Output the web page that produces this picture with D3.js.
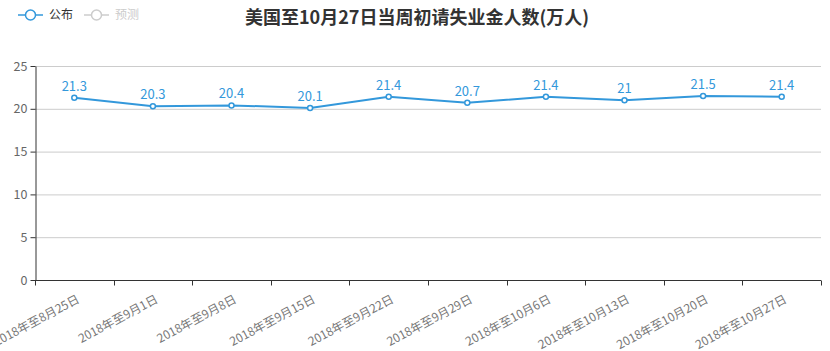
<!DOCTYPE html>
<html>
<head>
<meta charset="utf-8">
<script src="https://cdn.jsdelivr.net/npm/d3@7"></script>
<style>
  body { margin: 0; background: #fff; }
  svg { display: block; font-family: "Noto Sans CJK SC", "Microsoft YaHei", sans-serif; }
</style>
</head>
<body>
<div id="chart"></div>
<script>
// weekly initial jobless claims (ten thousands)
const weeks = ["2018年至8月25日", "2018年至9月1日", "2018年至9月8日", "2018年至9月15日", "2018年至9月22日",
  "2018年至9月29日", "2018年至10月6日", "2018年至10月13日", "2018年至10月20日", "2018年至10月27日"];
const published = [21.3, 20.3, 20.4, 20.1, 21.4, 20.7, 21.4, 21, 21.5, 21.4];
const yTicks = [0, 5, 10, 15, 20, 25];
const legendNames = ["公布", "预测"];
const titleText = "美国至10月27日当周初请失业金人数(万人)";

const W = 830, H = 351;
const margin = {top: 66, right: 9, bottom: 71, left: 35};
const blue = "#3398db";

const svg = d3.select("#chart").append("svg")
  .attr("width", W).attr("height", H);

const x = d3.scaleBand().domain(weeks).range([margin.left, W - margin.right]);
const y = d3.scaleLinear().domain([0, 25]).range([H - margin.bottom, margin.top]);

// grid lines
svg.append("g").selectAll("line")
  .data(yTicks.filter(d => d > 0))
  .join("line")
  .attr("x1", margin.left).attr("x2", W - margin.right)
  .attr("y1", d => y(d) + 0.5).attr("y2", d => y(d) + 0.5)
  .attr("stroke", "#ccc");

// y axis
const yAxis = svg.append("g")
  .attr("transform", `translate(${margin.left + 0.5},0)`)
  .call(d3.axisLeft(y).tickValues(yTicks).tickSize(5).tickSizeOuter(0));
yAxis.select(".domain").attr("stroke", "#333");
yAxis.selectAll(".tick line").attr("stroke", "#333");
yAxis.selectAll("text").attr("fill", "#666").attr("font-size", "12.5px")
  .attr("font-family", "'Noto Sans CJK SC', sans-serif").attr("x", -8);

// x axis: ticks on band boundaries
const xg = svg.append("g").attr("transform", `translate(0,${y(0) + 0.5})`);
xg.append("line")
  .attr("x1", margin.left).attr("x2", W - margin.right)
  .attr("stroke", "#333");
const bounds = weeks.map(d => x(d)).concat([W - margin.right]);
xg.selectAll("line.tk").data(bounds).join("line").attr("class", "tk")
  .attr("x1", d => Math.round(d) + 0.5).attr("x2", d => Math.round(d) + 0.5)
  .attr("y1", 0).attr("y2", 5).attr("stroke", "#333");
xg.selectAll("text").data(weeks).join("text")
  .attr("transform", d => `translate(${x(d) + x.bandwidth() / 2 + 2},${14}) rotate(-28)`)
  .attr("text-anchor", "end")
  .attr("dy", "0.7em")
  .attr("fill", "#777")
  .attr("font-size", "12px")
  .text(d => d);

// line
const cx = d => x(d) + x.bandwidth() / 2;
const line = d3.line().x((d, i) => cx(weeks[i])).y(d => y(d));
svg.append("path").datum(published)
  .attr("d", line)
  .attr("fill", "none")
  .attr("stroke", blue)
  .attr("stroke-width", 2);

svg.append("g").selectAll("circle").data(published).join("circle")
  .attr("cx", (d, i) => cx(weeks[i]))
  .attr("cy", d => y(d))
  .attr("r", 2.5)
  .attr("fill", "#fff")
  .attr("stroke", blue)
  .attr("stroke-width", 1.5);

svg.append("g").selectAll("text").data(published).join("text")
  .attr("x", (d, i) => cx(weeks[i]))
  .attr("y", d => y(d) - 7)
  .attr("text-anchor", "middle")
  .attr("fill", blue)
  .attr("font-size", "13px")
  .text(d => d);

// title
svg.append("text")
  .attr("x", 417).attr("y", 24)
  .attr("text-anchor", "middle")
  .attr("font-size", "18px")
  .attr("font-weight", "bold")
  .attr("fill", "#333")
  .text(titleText);

// legend
const legendColors = [blue, "#ccc"];
const legendText = ["#333", "#ccc"];
const lg = svg.append("g").selectAll("g").data(legendNames).join("g")
  .attr("transform", (d, i) => `translate(${18 + i * 66},15)`);
lg.append("line").attr("x1", 0).attr("x2", 25)
  .attr("stroke", (d, i) => legendColors[i]).attr("stroke-width", 1.5);
lg.append("circle").attr("cx", 12.5).attr("r", 5)
  .attr("fill", "#fff").attr("stroke", (d, i) => legendColors[i]).attr("stroke-width", 1.5);
lg.append("text").attr("x", 31).attr("dy", "0.35em")
  .attr("font-size", "12px")
  .attr("fill", (d, i) => legendText[i])
  .text(d => d);
</script>
</body>
</html>
